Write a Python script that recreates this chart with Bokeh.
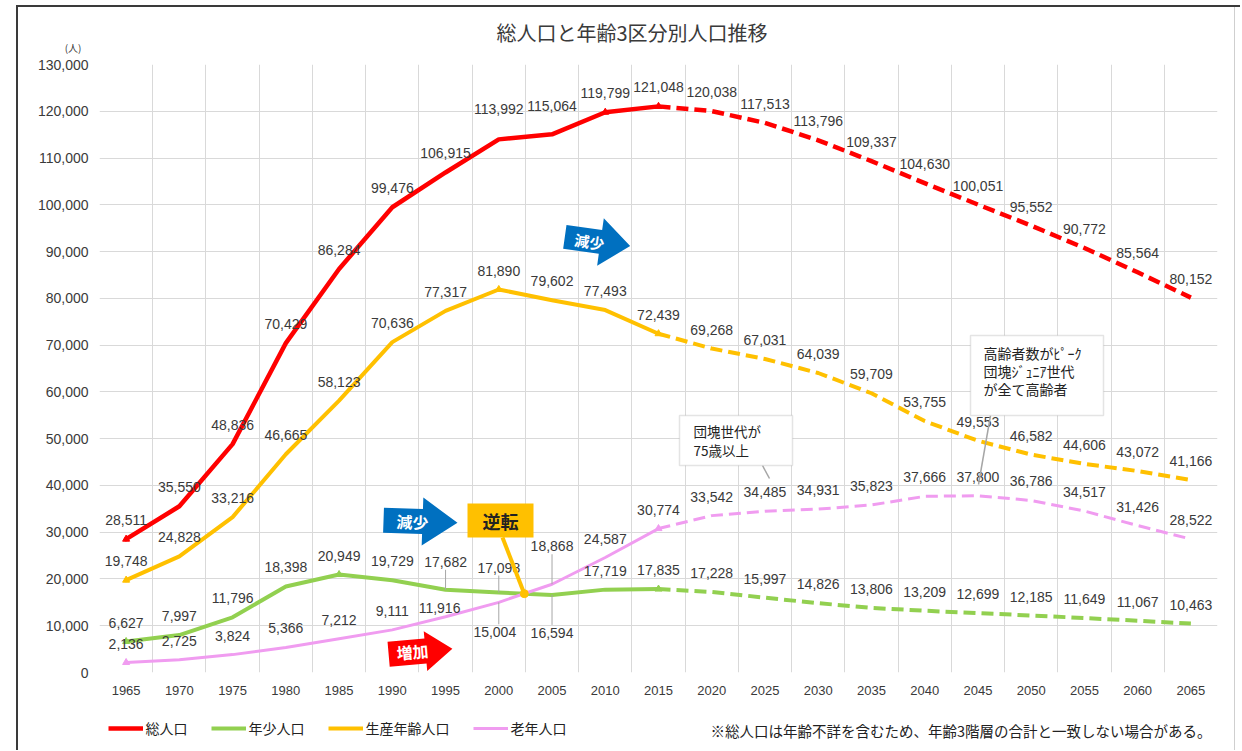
import math
import numpy as np
from bokeh.plotting import figure
from bokeh.layouts import column
from bokeh.models import (ColumnDataSource, FixedTicker, NumeralTickFormatter, Label, LinearAxis,
                          BoxAnnotation, PolyAnnotation, Legend, LegendItem, Range1d)
from bokeh.core.properties import value
from bokeh.embed import file_html
from bokeh.resources import INLINE

# ---------------- data ----------------
years = [1965, 1970, 1975, 1980, 1985, 1990, 1995, 2000, 2005, 2010, 2015,
         2020, 2025, 2030, 2035, 2040, 2045, 2050, 2055, 2060, 2065]
total = [28511, 35550, 48836, 70429, 86284, 99476, 106915, 113992, 115064, 119799, 121048,
         120038, 117513, 113796, 109337, 104630, 100051, 95552, 90772, 85564, 80152]
youth = [6627, 7997, 11796, 18398, 20949, 19729, 17682, 17098, 16594, 17719, 17835,
         17228, 15997, 14826, 13806, 13209, 12699, 12185, 11649, 11067, 10463]
working = [19748, 24828, 33216, 46665, 58123, 70636, 77317, 81890, 79602, 77493, 72439,
           69268, 67031, 64039, 59709, 53755, 49553, 46582, 44606, 43072, 41166]
elderly = [2136, 2725, 3824, 5366, 7212, 9111, 11916, 15004, 18868, 24587, 30774,
           33542, 34485, 34931, 35823, 37666, 37800, 36786, 34517, 31426, 28522]
series_names = ["総人口", "年少人口", "生産年齢人口", "老年人口"]
y_ticks = list(range(0, 130001, 10000))
split_year = 2015
title_text = "総人口と年齢3区分別人口推移"
unit_text = "(人)"
note_text = "※総人口は年齢不詳を含むため、年齢3階層の合計と一致しない場合がある。"
callout1 = ["団塊世代が", "75歳以上"]
callout2 = ["高齢者数がﾋﾟｰｸ", "団塊ｼﾞｭﾆｱ世代", "が全て高齢者"]
arrow_texts = ["減少", "減少", "増加"]
cross_text = "逆転"

# ---------------- styles ----------------
colors = ["#FF0000", "#92D050", "#FFC000", "#F09CF0"]
widths = [4.5, 4, 4, 3]
FONT_NUM = "Liberation Sans"
FONT_JP = "Noto Sans CJK JP"
TXT = "#3a3a3a"
GRID = "#D9D9D9"

# page geometry (px)
W = 1240
TOP_H = 56            # title strip
MAIN_TOP = 8          # main figure border above frame
FL, FT = 99.0, 64.0   # frame left / top on page
FW, FH = 1118, 608
FB = FT + FH
FR = FL + FW
MAIN_BOTTOM = 34
BOT_H = 44
MAIN_H = MAIN_TOP + FH + MAIN_BOTTOM
PAGE_BOT = TOP_H + MAIN_H          # top of bottom strip on page
X0, X1 = 1962.5, 2067.5
XPX = FW / (X1 - X0)
YPX = FH / 130000.0


def ix(X):
    return X0 + (X - FL) / XPX


def iy(Y):
    return (FB - Y) / YPX


def strip(height, y_top):
    # frames of plots in a column are aligned, so the strip frame spans FL..FR
    f = figure(width=W, height=height, x_range=Range1d(FL, FR), y_range=Range1d(y_top + height, y_top),
               x_axis_type=None, y_axis_type=None, output_backend="svg", toolbar_location=None,
               min_border_left=int(FL), min_border_right=int(W - FR), min_border_top=0, min_border_bottom=0)
    f.outline_line_color = None
    f.background_fill_alpha = 0
    f.border_fill_alpha = 0
    f.title.visible = False
    return f


# ---------------- main figure ----------------
p = figure(width=W, height=MAIN_H, x_range=Range1d(X0, X1), y_range=Range1d(0, 130000),
           output_backend="svg", toolbar_location=None,
           min_border_left=int(FL), min_border_right=int(W - FR), min_border_top=MAIN_TOP,
           min_border_bottom=MAIN_BOTTOM)
p.title.visible = False
p.outline_line_color = None
p.background_fill_color = "white"
p.border_fill_alpha = 0

p.xgrid.ticker = FixedTicker(ticks=[X0 + 5 * i for i in range(len(years) + 1)])
p.ygrid.ticker = FixedTicker(ticks=y_ticks)
for g in (p.xgrid, p.ygrid):
    g.grid_line_color = GRID
    g.grid_line_width = 1

p.xaxis.ticker = FixedTicker(ticks=years)
p.yaxis.ticker = FixedTicker(ticks=y_ticks)
p.yaxis.formatter = NumeralTickFormatter(format="0,0")
for ax in (p.xaxis, p.yaxis):
    ax.axis_line_color = None
    ax.major_tick_line_color = None
    ax.minor_tick_line_color = None
    ax.major_tick_in = 0
    ax.major_tick_out = 0
    ax.major_label_text_font = FONT_NUM
    ax.major_label_text_color = TXT
p.xaxis.major_label_text_font_size = "13px"
p.yaxis.major_label_text_font_size = "14px"
p.xaxis.major_label_standoff = 13
p.yaxis.major_label_standoff = 11

all_series = [total, youth, working, elderly]
k = years.index(split_year)
for vals, c, w in zip(all_series, colors, widths):
    p.line(years[:k + 1], vals[:k + 1], line_color=c, line_width=w, line_join="round", line_cap="round")
    p.line(years[k:], vals[k:], line_color=c, line_width=w, line_dash="12 6", line_join="round")

marker_years = [[1965, 2010, 2015], [1965, 1985, 2015], [1965, 2000, 2015], [1965, 2015]]
for vals, c, my in zip(all_series, colors, marker_years):
    p.scatter(list(my), [vals[years.index(y)] for y in my], marker="triangle", size=7, color=c)

# data labels
DEF_OFF = -19
overrides = {
    (0, 2000): (0, -30), (0, 2005): (0, -28),
    (1, 1995): (0, -28), (1, 2000): (0, -25), (1, 2005): (0, 38),
    (3, 1995): (-6, -9), (3, 2000): (-4, 30), (3, 2005): (0, -38),
}
leaders = [(1, 1995), (1, 2000), (1, 2005), (3, 2000), (3, 2005)]
for si, vals in enumerate(all_series):
    xo = [overrides.get((si, y), (0, DEF_OFF))[0] for y in years]
    yo = [overrides.get((si, y), (0, DEF_OFF))[1] for y in years]
    src = ColumnDataSource(dict(x=years, y=vals, text=[f"{v:,}" for v in vals], xo=xo, yo=yo))
    p.text(x="x", y="y", text="text", source=src, x_offset="xo", y_offset="yo",
           text_align="center", text_baseline="middle", text_font=value(FONT_NUM),
           text_font_size="14px", text_color=TXT)

lx0, ly0, lx1, ly1 = [], [], [], []
for si, yr in leaders:
    v = all_series[si][years.index(yr)]
    off = overrides[(si, yr)][1]
    end = off + 8 if off < 0 else off - 8
    lx0.append(yr); ly0.append(v)
    lx1.append(yr); ly1.append(v - end / YPX)
p.segment(lx0, ly0, lx1, ly1, line_color="#A6A6A6", line_width=1)

# crossover of youth & elderly
d = np.array(youth) - np.array(elderly)
ci = int(np.where(np.sign(d[:-1]) != np.sign(d[1:]))[0][0])
t = d[ci] / (d[ci] - d[ci + 1])
cx = years[ci] + t * (years[ci + 1] - years[ci])
cy = youth[ci] + t * (youth[ci + 1] - youth[ci])

p.segment([ix(502)], [iy(537)], [cx], [cy], line_color="#FFC000", line_width=4)
p.scatter([cx], [cy], size=8, color="#FFC000")
p.add_layout(BoxAnnotation(left=ix(467), right=ix(533), top=iy(503), bottom=iy(537),
                           fill_color="#FFC000", fill_alpha=1, line_color=None))
p.add_layout(Label(x=ix(500), y=iy(520), text=cross_text, text_align="center", text_baseline="middle",
                   text_font=FONT_JP, text_font_size="18px", text_font_style="bold", text_color="#222222"))


def block_arrow(cxp, cyp, L, hb, hh, Lh, ang):
    pts = [(-L / 2, -hb), (L / 2 - Lh, -hb), (L / 2 - Lh, -hh), (L / 2, 0),
           (L / 2 - Lh, hh), (L / 2 - Lh, hb), (-L / 2, hb)]
    a = math.radians(ang)
    xs, ys = [], []
    for x, y in pts:
        xr = x * math.cos(a) - y * math.sin(a)
        yr = x * math.sin(a) + y * math.cos(a)
        xs.append(ix(cxp + xr))
        ys.append(iy(cyp - yr))
    return xs, ys


arrows = [
    (597, 241, 66, 12, 24, 30, -8, "#0070C0", 15),
    (420, 521, 74, 12.5, 24, 35, -2, "#0070C0", 16),
    (420, 651, 64, 12.5, 20, 27, 5, "#FF0000", 16),
]
for (ax_, ay_, L, hb, hh, Lh, ang, col, fs), txt in zip(arrows, arrow_texts):
    xs, ys = block_arrow(ax_, ay_, L, hb, hh, Lh, ang)
    p.add_layout(PolyAnnotation(xs=xs, ys=ys, fill_color=col, fill_alpha=1, line_color=None))
    p.add_layout(Label(x=ix(ax_ - 8), y=iy(ay_), text=txt, angle=math.radians(ang),
                       text_align="center", text_baseline="middle", text_font=FONT_JP,
                       text_font_size=f"{fs}px", text_font_style="bold", text_color="white"))

p.segment([ix(762), ix(990)], [iy(465), iy(415)], [ix(769), ix(978)], [iy(478), iy(484)],
          line_color="#A6A6A6", line_width=1.5)
p.add_layout(BoxAnnotation(left=ix(679), right=ix(792), top=iy(415), bottom=iy(465),
                           fill_color="white", fill_alpha=1, line_color="#A6A6A6", line_width=1.5))
for i, s in enumerate(callout1):
    p.add_layout(Label(x=ix(693), y=iy(430 + 19 * i), text=s, text_align="left", text_baseline="middle",
                       text_font=FONT_JP, text_font_size="13.5px", text_color="#222222"))
p.add_layout(BoxAnnotation(left=ix(970), right=ix(1103), top=iy(335), bottom=iy(415),
                           fill_color="white", fill_alpha=1, line_color="#A6A6A6", line_width=1.5))
for i, s in enumerate(callout2):
    p.add_layout(Label(x=ix(983), y=iy(352 + 18.3 * i), text=s, text_align="left", text_baseline="middle",
                       text_font=FONT_JP, text_font_size="14px", text_color="#222222"))

# ---------------- top strip: title and unit ----------------
tf = strip(TOP_H, 0)
tf.add_layout(Label(x=631.5, y=32, text=title_text, text_align="center", text_baseline="middle",
                    text_font=FONT_JP, text_font_size="20px", text_color=TXT))
unit_axis = LinearAxis(ticker=FixedTicker(ticks=[50.5]), major_label_overrides={50.5: unit_text},
                       axis_line_color=None, major_tick_line_color=None, minor_tick_line_color=None,
                       major_tick_in=0, major_tick_out=0, major_label_standoff=18,
                       major_label_text_font=FONT_JP, major_label_text_font_size="10px",
                       major_label_text_color=TXT)
tf.add_layout(unit_axis, "left")

# ---------------- bottom strip: legend and note ----------------
bf = strip(BOT_H, PAGE_BOT)
leg_renderers = [bf.line(x=[0, 1], y=[0, 0], line_color=c, line_width=w) for c, w in zip(colors, widths)]
legend = Legend(items=[LegendItem(label=n, renderers=[r]) for n, r in zip(series_names, leg_renderers)],
                orientation="horizontal", location=(107.5 - FL, 11), padding=0, margin=0, spacing=23,
                glyph_width=35, glyph_height=22, label_height=22, label_standoff=3,
                label_text_font=FONT_JP, label_text_font_size="14px", label_text_color="#222222",
                border_line_color=None, background_fill_alpha=0)
bf.add_layout(legend)
bf.add_layout(Label(x=710, y=730, text=note_text, text_align="left", text_baseline="middle",
                    text_font=FONT_JP, text_font_size="14.5px", text_color="#222222"))

frame_css = {
    "background-image": "linear-gradient(#3a3a3a,#3a3a3a), linear-gradient(#3a3a3a,#3a3a3a), "
                        "linear-gradient(#cfcfcf,#cfcfcf)",
    "background-size": "1226px 2px, 2px 760px, 1px 760px",
    "background-position": "16px 5px, 16px 5px, 1234px 5px",
    "background-repeat": "no-repeat",
}
layout = column(tf, p, bf, spacing=0, styles=frame_css)

open("out.html", "w").write(file_html(layout, INLINE))
